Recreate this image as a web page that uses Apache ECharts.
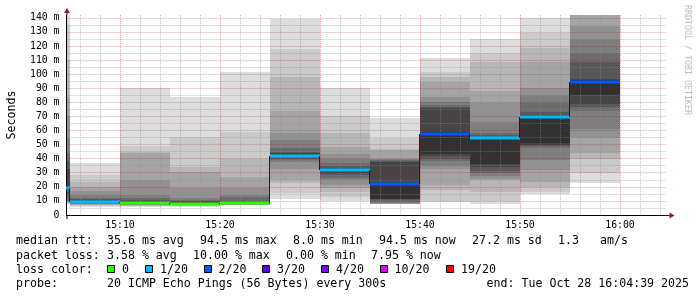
<!DOCTYPE html>
<html><head><meta charset="utf-8">
<script src="https://cdn.jsdelivr.net/npm/echarts@6/dist/echarts.min.js"></script>
<style>html,body{margin:0;padding:0;background:#fff}#c{width:697px;height:297px}</style>
</head><body><div id="c"></div>
<script>
// ---- data ----
// end time of each 5-minute ping round
const intervalEnds = ['15:05','15:10','15:15','15:20','15:25','15:30','15:35','15:40','15:45','15:50','15:55','16:00'];
// 20 sorted ping RTTs (ms) per round (smoke)
const pings1505 = [7.5, 8.0, 8.5, 9.0, 9.5, 10.0, 10.6, 14.0, 18.2, 19.0, 20.0, 33.0, 38.0, 44.0, 55.0, 70.0, 84.0, 110.0, 135.0, 142.0];
const pings1510 = [6.0, 6.5, 6.9, 7.2, 7.5, 7.8, 8.0, 8.3, 8.6, 9.0, 9.6, 10.2, 11.4, 12.3, 14.2, 17.3, 20.1, 23.7, 28.4, 36.7];
const pings1515 = [6.0, 6.4, 6.7, 6.9, 7.1, 7.3, 7.5, 7.7, 7.9, 8.2, 9.0, 9.8, 10.6, 12.0, 14.2, 24.8, 44.0, 44.5, 49.2, 90.0];
const pings1520 = [6.0, 6.3, 6.6, 6.8, 7.0, 7.2, 7.4, 7.6, 7.8, 8.0, 8.8, 9.3, 9.9, 10.8, 11.8, 18.9, 30.7, 34.3, 55.6, 83.5];
const pings1525 = [6.8, 7.0, 7.2, 7.3, 7.4, 7.5, 7.6, 7.8, 8.0, 8.3, 8.7, 9.4, 10.0, 12.5, 14.2, 19.4, 27.2, 39.5, 59.1, 101.3];
const pings1530 = [11.4, 15.4, 22.9, 24.8, 33.0, 37.8, 39.0, 40.0, 41.0, 41.6, 42.2, 43.8, 44.5, 47.8, 53.2, 58.0, 74.0, 97.7, 117.6, 139.1];
const pings1535 = [10.0, 13.0, 16.6, 18.9, 21.3, 24.8, 26.5, 28.4, 29.5, 31.0, 32.2, 33.6, 35.0, 37.0, 40.0, 43.0, 48.5, 58.0, 70.0, 90.0];
const pings1540 = [7.6, 7.7, 7.8, 7.9, 8.0, 8.5, 9.5, 10.5, 11.1, 11.5, 22.5, 37.5, 38.5, 39.0, 39.5, 40.0, 46.0, 47.0, 54.4, 69.1];
const pings1545 = [9.5, 9.9, 17.7, 21.3, 32.4, 35.0, 38.3, 40.0, 41.9, 43.0, 59.1, 76.0, 77.0, 78.1, 80.0, 84.0, 94.6, 98.1, 101.7, 111.4];
const pings1550 = [7.6, 10.0, 16.5, 24.8, 25.5, 28.0, 29.6, 31.5, 34.0, 36.0, 55.0, 55.5, 56.5, 58.0, 66.2, 79.3, 88.0, 108.8, 114.8, 124.9];
const pings1555 = [15.0, 16.5, 20.0, 23.6, 31.9, 39.0, 47.3, 49.0, 50.0, 50.9, 69.8, 71.0, 73.3, 79.3, 85.2, 89.9, 108.8, 118.3, 129.0, 139.8];
const pings1600 = [22.5, 30.0, 40.0, 43.8, 55.0, 60.8, 74.0, 77.0, 78.8, 85.2, 95.5, 96.5, 108.8, 115.2, 124.7, 134.1, 142.0, 142.0, 142.0, 142.0];
const pingSets = [pings1505, pings1510, pings1515, pings1520, pings1525, pings1530, pings1535, pings1540, pings1545, pings1550, pings1555, pings1600];
// median rtt (ms) and lost pings per round
const medianRtt = [19.4, 9.3, 8.2, 8.0, 8.6, 42.0, 31.8, 21.8, 57.8, 54.4, 69.3, 94.5];
const lossCount = [1, 1, 0, 0, 0, 1, 1, 2, 2, 1, 1, 2];
// loss colour legend
const lossLevels = [0, 1, 2, 3, 4, 10, 19];
const lossLabels = ['0', '1/20', '2/20', '3/20', '4/20', '10/20', '19/20'];
const lossColors = ['#26ff00', '#00b8ff', '#0059ff', '#5e00ff', '#7e00ff', '#dd00ff', '#ff0000'];
// tick labels
const yTickValues = [0, 10, 20, 30, 40, 50, 60, 70, 80, 90, 100, 110, 120, 130, 140];
const yTickLabels = ['0', '10 m', '20 m', '30 m', '40 m', '50 m', '60 m', '70 m', '80 m', '90 m', '100 m', '110 m', '120 m', '130 m', '140 m'];
const xTickLabels = ['15:10', '15:20', '15:30', '15:40', '15:50', '16:00'];
// time window
const windowStart = '15:04:39';
const windowEnd = '16:04:39';
const yMax = 142;

// ---- helpers ----
const REF_HOUR = 15;
function toMin(s) { const p = s.split(':').map(Number); return (p[0] - REF_HOUR) * 60 + p[1] + (p[2] || 0) / 60; }
function fmtMin(v) { const t = Math.round(v) + REF_HOUR * 60; const h = Math.floor(t / 60), m = t % 60; return h + ':' + (m < 10 ? '0' : '') + m; }
const STEP = 5;
function lossColor(loss) { let idx = 0; for (let j = 0; j < lossLevels.length; j++) if (loss >= lossLevels[j]) idx = j; return lossColors[idx]; }

const MONO = '"DejaVu Sans Mono", monospace';
const majorGrid = 'rgba(205,0,0,0.36)';
const minorGrid = 'rgba(140,140,140,0.5)';

const chart = echarts.init(document.getElementById('c'), null, { renderer: 'canvas' });

const graphics = [];
function txt(s, x, y, opts) {
  graphics.push(Object.assign({ type: 'text', x: x, y: y, silent: true,
    style: { text: s, font: '11.6px ' + MONO, fill: '#000', align: 'left', verticalAlign: 'middle' } }, opts || {}));
}
// legend rows
const row1 = [['median rtt:', 16], ['35.6 ms avg', 107], ['94.5 ms max', 200], ['8.0 ms min', 293], ['94.5 ms now', 379], ['27.2 ms sd', 472], ['1.3', 558], ['am/s', 600]];
const row2 = [['packet loss:', 16], ['3.58 % avg', 107], ['10.00 % max', 193], ['0.00 % min', 286], ['7.95 % now', 371]];
const boxX = [107, 145, 203.5, 262, 321, 379.5, 446];
row1.forEach(r => txt(r[0], r[1], 241));
row2.forEach(r => txt(r[0], r[1], 255.5));
txt('loss color:', 16, 269.5);
lossLabels.forEach((l, i) => {
  graphics.push({ type: 'rect', silent: true, shape: { x: Math.round(boxX[i]) + 0.5, y: 265.5, width: 7, height: 7 },
    style: { fill: lossColors[i], stroke: '#000', lineWidth: 1 } });
  txt(l, boxX[i] + 15, 269.5);
});
txt('probe:', 16, 283.5);
txt('20 ICMP Echo Pings (56 Bytes) every 300s', 107, 283.5);
graphics.push({ type: 'text', x: 689, y: 283.5, silent: true,
  style: { text: 'end: Tue Oct 28 16:04:39 2025', font: '11.6px ' + MONO, fill: '#000', align: 'right', verticalAlign: 'middle' } });
// watermark
graphics.push({ type: 'text', x: 687.5, y: 5, rotation: -Math.PI / 2, silent: true,
  style: { text: 'RRDTOOL / TOBI OETIKER', font: '8.3px ' + MONO, fill: '#bdbdbd', align: 'left', verticalAlign: 'middle' } });
// axis arrows / extensions
const GL = 66.5, GT = 15, GW = 600, GH = 200;
const arrowCol = '#a01818';
graphics.push({ type: 'line', silent: true, z: 10, shape: { x1: GL + GW, y1: GT + GH + 0.5, x2: GL + GW + 3, y2: GT + GH + 0.5 }, style: { stroke: '#000', lineWidth: 1 } });
graphics.push({ type: 'polygon', silent: true, z: 10, shape: { points: [[GL + GW + 3, GT + GH - 2.5], [GL + GW + 3, GT + GH + 3.5], [GL + GW + 8, GT + GH + 0.5]] }, style: { fill: arrowCol } });
graphics.push({ type: 'line', silent: true, z: 10, shape: { x1: GL + 0.5, y1: GT, x2: GL + 0.5, y2: GT - 2 }, style: { stroke: '#000', lineWidth: 1 } });
graphics.push({ type: 'line', silent: true, z: 10, shape: { x1: GL + 0.5, y1: GT + GH, x2: GL + 0.5, y2: GT + GH + 4 }, style: { stroke: '#000', lineWidth: 1 } });
graphics.push({ type: 'polygon', silent: true, z: 10, shape: { points: [[GL - 2.5, GT - 2], [GL + 3.5, GT - 2], [GL + 0.5, GT - 7]] }, style: { fill: arrowCol } });

const option = {
  backgroundColor: '#fff',
  animation: false,
  grid: { left: GL, top: GT, width: GW, height: GH, containLabel: false, outerBoundsMode: 'none' },
  xAxis: {
    type: 'value', z: 3,
    min: toMin(windowStart), max: toMin(windowEnd), splitNumber: 6,
    axisLine: { show: true, onZero: false, lineStyle: { color: '#000', width: 1 } },
    axisTick: { show: false },
    axisLabel: {
      show: true, margin: 5, color: '#000', fontFamily: MONO, fontSize: 9.8,
      showMinLabel: false, showMaxLabel: false,
      formatter: v => { const i = xTickLabels.indexOf(fmtMin(v)); return (Math.abs(v - Math.round(v)) < 1e-6 && i >= 0) ? xTickLabels[i] : ''; }
    },
    splitLine: { show: true, showMinLine: false, showMaxLine: false, lineStyle: { color: majorGrid, width: 1, type: [1, 1] } },
    minorTick: { show: false, splitNumber: 5 },
    minorSplitLine: { show: true, lineStyle: { color: minorGrid, width: 1, type: [1, 1] } }
  },
  yAxis: {
    type: 'value', z: 3,
    min: 0, max: yMax, interval: 10,
    name: 'Seconds', nameLocation: 'middle', nameGap: 49,
    nameTextStyle: { fontFamily: MONO, fontSize: 11.6, color: '#000' },
    axisLine: { show: true, lineStyle: { color: '#000', width: 1 } },
    axisTick: { show: false },
    axisLabel: {
      show: true, margin: 7, color: '#000', fontFamily: MONO, fontSize: 9.8,
      showMaxLabel: false,
      formatter: v => { const i = yTickValues.indexOf(v); return i >= 0 ? yTickLabels[i] : ''; }
    },
    splitLine: { show: true, showMinLine: false, showMaxLine: false, lineStyle: { color: majorGrid, width: 1, type: [1, 1] } },
    minorTick: { show: false, splitNumber: 2 },
    minorSplitLine: { show: true, lineStyle: { color: minorGrid, width: 1, type: [1, 1] } }
  },
  series: [
    {
      type: 'custom', name: 'smoke', z: 1, clip: true,
      data: intervalEnds.map((t, i) => [toMin(t)].concat(pingSets[i])),
      encode: { x: 0, y: 1 },
      renderItem: function (params, api) {
        const t = api.value(0);
        const children = [];
        for (let k = 1; k <= 10; k++) {
          const lo = api.value(k), hi = api.value(21 - k);
          const a = api.coord([t - STEP, hi]), b = api.coord([t, lo]);
          const x0 = Math.round(a[0]), x1 = Math.round(b[0]);
          const y0 = Math.round(a[1]), y1 = Math.round(b[1]);
          const g = Math.floor(190 / 10 * (10 - k)) + 50;
          if (y1 - y0 <= 0) continue;
          children.push({ type: 'rect', shape: { x: x0, y: y0, width: x1 - x0, height: y1 - y0 },
            style: { fill: 'rgb(' + g + ',' + g + ',' + g + ')' } });
        }
        return { type: 'group', children: children };
      }
    },
    {
      type: 'custom', name: 'median', z: 4, clip: true,
      data: intervalEnds.map((t, i) => [toMin(t), medianRtt[i], lossCount[i]]),
      encode: { x: 0, y: 1 },
      renderItem: function (params, api) {
        const t = api.value(0), m = api.value(1), loss = api.value(2);
        const i = params.dataIndex;
        const a = api.coord([t - STEP, m]), b = api.coord([t, m]);
        const x0 = Math.round(a[0]), x1 = Math.round(b[0]), y = Math.round(a[1]);
        const children = [];
        if (i > 0) {
          const p = api.coord([t - STEP, medianRtt[i - 1]]);
          const yp = Math.round(p[1]);
          children.push({ type: 'line', shape: { x1: x0 - 0.5, y1: Math.min(y, yp), x2: x0 - 0.5, y2: Math.max(y, yp) },
            style: { stroke: '#202020', lineWidth: 1 } });
        }
        children.push({ type: 'rect', shape: { x: x0, y: y - 1.5, width: x1 - x0, height: 3 },
          style: { fill: lossColor(loss) } });
        return { type: 'group', children: children };
      }
    }
  ],
  graphic: graphics
};
chart.setOption(option);
</script>
</body></html>
